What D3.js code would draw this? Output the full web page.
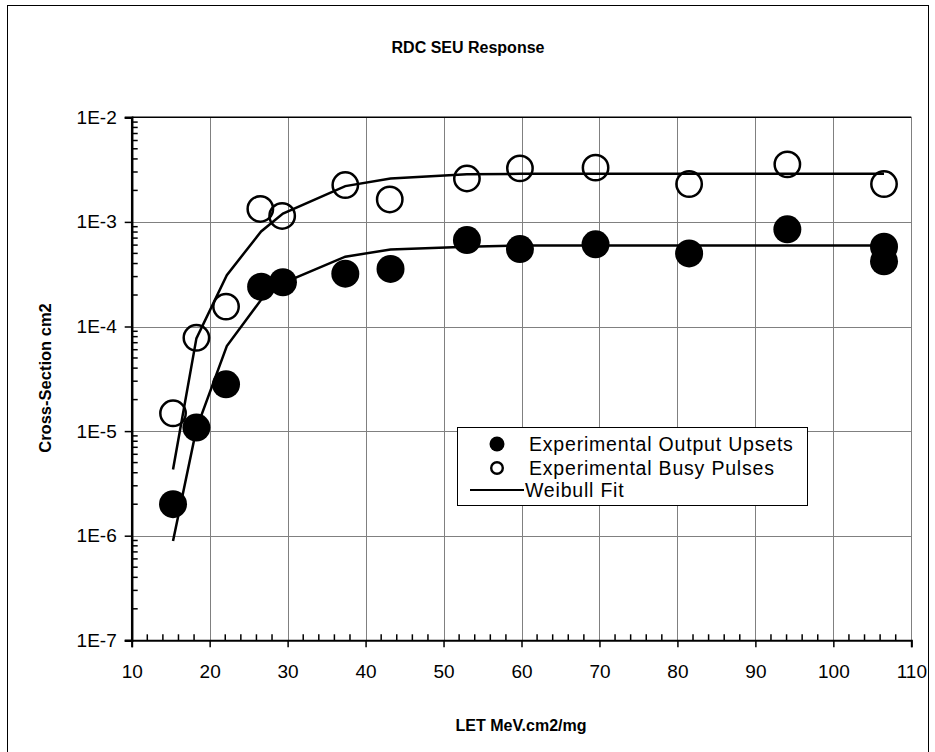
<!DOCTYPE html>
<html>
<head>
<meta charset="utf-8">
<script src="https://cdn.jsdelivr.net/npm/d3@7"></script>
<style>
  body { margin: 0; background: #fff; }
  svg { display: block; font-family: "Liberation Sans", Arial, sans-serif; }
</style>
</head>
<body>
<div id="chart"></div>
<script>
// LET values (MeV.cm2/mg) and measured cross-sections (cm2)
const upsetLET = [15.3, 18.3, 22.1, 26.6, 29.4, 37.4, 43.2, 53.0, 59.8, 69.5, 81.5, 94.1, 106.5, 106.5];
const upsetXS = [2.0e-6, 1.08e-5, 2.8e-5, 2.4e-4, 2.65e-4, 3.2e-4, 3.55e-4, 6.7e-4, 5.5e-4, 6.1e-4, 5.0e-4, 8.5e-4, 5.8e-4, 4.2e-4];

const busyLET = [15.3, 18.3, 22.1, 26.5, 29.3, 37.4, 43.1, 53.0, 59.8, 69.5, 81.5, 94.1, 106.5];
const busyXS = [1.48e-5, 7.8e-5, 1.55e-4, 1.33e-3, 1.14e-3, 2.25e-3, 1.64e-3, 2.6e-3, 3.25e-3, 3.3e-3, 2.3e-3, 3.55e-3, 2.3e-3];

// Weibull fit curves, sampled at the data LETs
const fitLET = [15.3, 18.3, 22.2, 26.6, 29.4, 37.4, 43.2, 53.0, 59.8, 69.5, 81.5, 94.1, 106.5];
const fitUpsetXS = [8.9e-7, 1.05e-5, 6.5e-5, 1.8e-4, 2.6e-4, 4.65e-4, 5.45e-4, 5.8e-4, 5.95e-4, 5.95e-4, 5.95e-4, 5.95e-4, 5.95e-4];
const fitBusyXS = [4.3e-6, 7.7e-5, 3.1e-4, 8.1e-4, 1.2e-3, 2.2e-3, 2.6e-3, 2.85e-3, 2.88e-3, 2.88e-3, 2.88e-3, 2.88e-3, 2.88e-3];

const xTicks = [10, 20, 30, 40, 50, 60, 70, 80, 90, 100, 110];
const yTicks = [1e-7, 1e-6, 1e-5, 1e-4, 1e-3, 1e-2];
const yTickLabels = ['1E-7', '1E-6', '1E-5', '1E-4', '1E-3', '1E-2'];

const legendItems = ['Experimental Output Upsets', 'Experimental Busy Pulses', 'Weibull Fit'];

const width = 935, height = 752;
const plot = { left: 131.7, right: 911.3, top: 117.3, bottom: 640.3 };

const svg = d3.select('#chart').append('svg')
  .attr('width', width)
  .attr('height', height);

// outer chart border
svg.append('rect')
  .attr('x', 7.5).attr('y', 5.5)
  .attr('width', 921).attr('height', 760)
  .attr('fill', 'none').attr('stroke', '#000').attr('stroke-width', 1);

const x = d3.scaleLinear().domain([10, 110]).range([plot.left, plot.right]);
const y = d3.scaleLog().domain([1e-7, 1e-2]).range([plot.bottom, plot.top]);

// gridlines
const grid = svg.append('g').attr('stroke', '#808080').attr('stroke-width', 1);
grid.selectAll('line.vx')
  .data(xTicks.slice(1))
  .join('line')
  .attr('x1', d => Math.round(x(d)) + 0.5).attr('x2', d => Math.round(x(d)) + 0.5)
  .attr('y1', plot.top).attr('y2', plot.bottom);
grid.selectAll('line.hy')
  .data(yTicks.slice(1, -1))
  .join('line')
  .attr('y1', d => Math.round(y(d)) + 0.5).attr('y2', d => Math.round(y(d)) + 0.5)
  .attr('x1', plot.left).attr('x2', plot.right);

// top border of plot area
svg.append('line')
  .attr('x1', plot.left).attr('x2', plot.right)
  .attr('y1', y(1e-2)).attr('y2', y(1e-2))
  .attr('stroke', '#000').attr('stroke-width', 1.5);

// x axis with major ticks outside and minor ticks inside
const xAxis = svg.append('g')
  .attr('transform', `translate(0,${plot.bottom})`)
  .call(d3.axisBottom(x).tickValues(xTicks).tickSize(7).tickPadding(17).tickFormat(d3.format('d')));
xAxis.select('.domain').attr('stroke-width', 2);
xAxis.selectAll('.tick line').attr('stroke-width', 1.5);
xAxis.selectAll('text').attr('font-size', 19).attr('fill', '#000');
xAxis.selectAll('line.minor')
  .data(d3.range(12, 110, 2).filter(v => v % 10 !== 0))
  .join('line')
  .attr('class', 'minor')
  .attr('x1', d => x(d)).attr('x2', d => x(d))
  .attr('y1', 0).attr('y2', -6)
  .attr('stroke', '#000').attr('stroke-width', 1.5);

// y axis
const yAxis = svg.append('g')
  .attr('transform', `translate(${plot.left},0)`)
  .call(d3.axisLeft(y).tickValues(yTicks).tickSize(7).tickPadding(8)
    .tickFormat((d, i) => yTickLabels[i]));
yAxis.select('.domain').attr('stroke-width', 2.5);
yAxis.selectAll('.tick line').attr('stroke-width', 1.5);
yAxis.selectAll('text').attr('font-size', 19).attr('fill', '#000');
const minorY = [];
yTicks.slice(0, -1).forEach(base => {
  for (let k = 2; k <= 9; k++) minorY.push(base * k);
});
yAxis.selectAll('line.minor')
  .data(minorY)
  .join('line')
  .attr('class', 'minor')
  .attr('y1', d => y(d)).attr('y2', d => y(d))
  .attr('x1', 0).attr('x2', 6)
  .attr('stroke', '#000').attr('stroke-width', 1.5);

// Weibull fit lines
const line = d3.line().x(d => x(d[0])).y(d => y(d[1]));
[fitUpsetXS, fitBusyXS].forEach(series => {
  svg.append('path')
    .datum(fitLET.map((v, i) => [v, series[i]]))
    .attr('d', line)
    .attr('fill', 'none')
    .attr('stroke', '#000')
    .attr('stroke-width', 2.5);
});

// busy pulses (open circles)
svg.append('g').selectAll('circle')
  .data(busyLET.map((v, i) => [v, busyXS[i]]))
  .join('circle')
  .attr('cx', d => x(d[0])).attr('cy', d => y(d[1]))
  .attr('r', 12.7)
  .attr('fill', 'none')
  .attr('stroke', '#000')
  .attr('stroke-width', 2.5);

// output upsets (filled circles)
svg.append('g').selectAll('circle')
  .data(upsetLET.map((v, i) => [v, upsetXS[i]]))
  .join('circle')
  .attr('cx', d => x(d[0])).attr('cy', d => y(d[1]))
  .attr('r', 14)
  .attr('fill', '#000');

// legend
const legend = svg.append('g').attr('transform', 'translate(457,427)');
legend.append('rect')
  .attr('x', 0.5).attr('y', 0.5)
  .attr('width', 350).attr('height', 78)
  .attr('fill', '#fff').attr('stroke', '#000').attr('stroke-width', 1);
const rowY = [17, 41, 63];
legend.append('circle').attr('cx', 40).attr('cy', rowY[0]).attr('r', 7.5).attr('fill', '#000');
legend.append('circle').attr('cx', 40).attr('cy', rowY[1]).attr('r', 5.8)
  .attr('fill', 'none').attr('stroke', '#000').attr('stroke-width', 2.4);
legend.append('line').attr('x1', 13).attr('x2', 67).attr('y1', rowY[2]).attr('y2', rowY[2])
  .attr('stroke', '#000').attr('stroke-width', 2);
legend.selectAll('text')
  .data(legendItems)
  .join('text')
  .attr('x', d => d === 'Weibull Fit' ? 68 : 72)
  .attr('y', (d, i) => rowY[i])
  .attr('dy', '0.35em')
  .attr('font-size', 19.5)
  .attr('letter-spacing', 0.8)
  .text(d => d);

// titles
svg.append('text')
  .attr('x', 468).attr('y', 53)
  .attr('text-anchor', 'middle')
  .attr('font-size', 16).attr('font-weight', 'bold')
  .text('RDC SEU Response');

svg.append('text')
  .attr('transform', 'translate(51,378) rotate(-90)')
  .attr('text-anchor', 'middle')
  .attr('font-size', 16.5).attr('font-weight', 'bold')
  .text('Cross-Section cm2');

svg.append('text')
  .attr('x', 521).attr('y', 731)
  .attr('text-anchor', 'middle')
  .attr('font-size', 16).attr('font-weight', 'bold')
  .text('LET MeV.cm2/mg');
</script>
</body>
</html>
